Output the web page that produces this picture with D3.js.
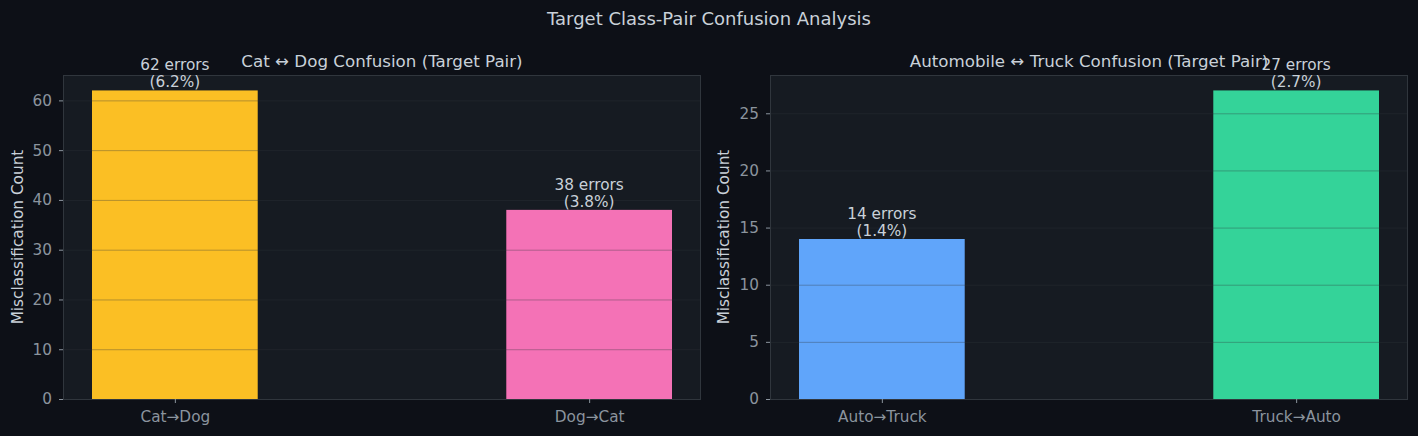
<!DOCTYPE html>
<html><head><meta charset="utf-8">
<script src="https://cdn.jsdelivr.net/npm/d3@7/dist/d3.min.js"></script>
<style>
html,body{margin:0;padding:0;background:#0d1017;}
svg{display:block;font-family:"DejaVu Sans",sans-serif;}
</style></head><body>
<svg id="c" width="1418" height="436"></svg>
<script>
const suptitle = "Target Class-Pair Confusion Analysis";
const titles = ["Cat \u2194 Dog Confusion (Target Pair)", "Automobile \u2194 Truck Confusion (Target Pair)"];
const categoriesA = ["Cat\u2192Dog", "Dog\u2192Cat"];
const valuesA = [62, 38];
const pctA = ["6.2%", "3.8%"];
const colorsA = ["#fbbf24", "#f472b6"];
const ticksA = [0, 10, 20, 30, 40, 50, 60];
const categoriesB = ["Auto\u2192Truck", "Truck\u2192Auto"];
const valuesB = [14, 27];
const pctB = ["1.4%", "2.7%"];
const colorsB = ["#60a5fa", "#34d399"];
const ticksB = [0, 5, 10, 15, 20, 25];
const yLabel = "Misclassification Count";

const FS = 15.3;
const svg = d3.select("#c");
svg.append("rect").attr("width",1418).attr("height",436).attr("fill","#0d1017");
svg.append("text").attr("x",709).attr("y",25).attr("text-anchor","middle")
  .attr("fill","#c9d1d9").attr("font-size",18).text(suptitle);

function panel(x0, cats, vals, pcts, cols, ticks, title, ylx){
  const W = 638, top = 75, bot = 399;
  const g = svg.append("g");
  const x = d3.scaleLinear().domain([-0.27, 1.27]).range([x0, x0+W]);
  const y = d3.scaleLinear().domain([0, d3.max(vals)*1.05]).range([bot, top]);
  g.append("rect").attr("x",x0).attr("y",top).attr("width",W).attr("height",bot-top).attr("fill","#161b22");
  g.selectAll(".bar").data(vals).join("rect")
    .attr("x",(d,i)=>x(i-0.2)).attr("width",x(0.2)-x(-0.2))
    .attr("y",d=>y(d)).attr("height",d=>y(0)-y(d))
    .attr("fill",(d,i)=>cols[i]);
  g.selectAll(".grid").data(ticks).join("line")
    .attr("x1",x0).attr("x2",x0+W).attr("y1",d=>y(d)+0.5).attr("y2",d=>y(d)+0.5)
    .attr("stroke","#30363d").attr("stroke-opacity",0.35).attr("stroke-width",1);
  g.append("rect").attr("x",x0+0.5).attr("y",top+0.5).attr("width",W-1).attr("height",bot-top)
    .attr("fill","none").attr("stroke","#30363d").attr("stroke-width",1);
  const ya = d3.axisLeft(y).tickValues(ticks).tickSize(4).tickPadding(7).tickFormat(d3.format("d"));
  const yg = g.append("g").attr("transform",`translate(${x0},0)`).call(ya);
  yg.select(".domain").remove();
  yg.selectAll("line").attr("stroke","#8b949e");
  yg.selectAll("text").attr("fill","#8b949e").attr("font-size",FS).attr("font-family","DejaVu Sans");
  const xa = d3.axisBottom(x).tickValues([0,1]).tickSize(4).tickPadding(8).tickFormat((d)=>cats[d]);
  const xg = g.append("g").attr("transform",`translate(0,${bot})`).call(xa);
  xg.select(".domain").remove();
  xg.selectAll("line").attr("stroke","#8b949e");
  xg.selectAll("text").attr("fill","#8b949e").attr("font-size",FS).attr("font-family","DejaVu Sans");
  g.append("text").attr("x",x0+W/2).attr("y",67).attr("text-anchor","middle")
    .attr("fill","#c9d1d9").attr("font-size",16.7).text(title);
  g.append("text").attr("transform",`translate(${ylx},${(top+bot)/2}) rotate(-90)`)
    .attr("text-anchor","middle").attr("fill","#c9d1d9").attr("font-size",FS).text(yLabel);
  vals.forEach((d,i)=>{
    const t = g.append("text").attr("text-anchor","middle").attr("fill","#c9d1d9").attr("font-size",FS);
    t.append("tspan").attr("x",x(i)).attr("y",y(d)-20).text(`${d} errors`);
    t.append("tspan").attr("x",x(i)).attr("y",y(d)-3).text(`(${pcts[i]})`);
  });
}
panel(63, categoriesA, valuesA, pctA, colorsA, ticksA, titles[0], 23);
panel(770, categoriesB, valuesB, pctB, colorsB, ticksB, titles[1], 729);
</script></body></html>
